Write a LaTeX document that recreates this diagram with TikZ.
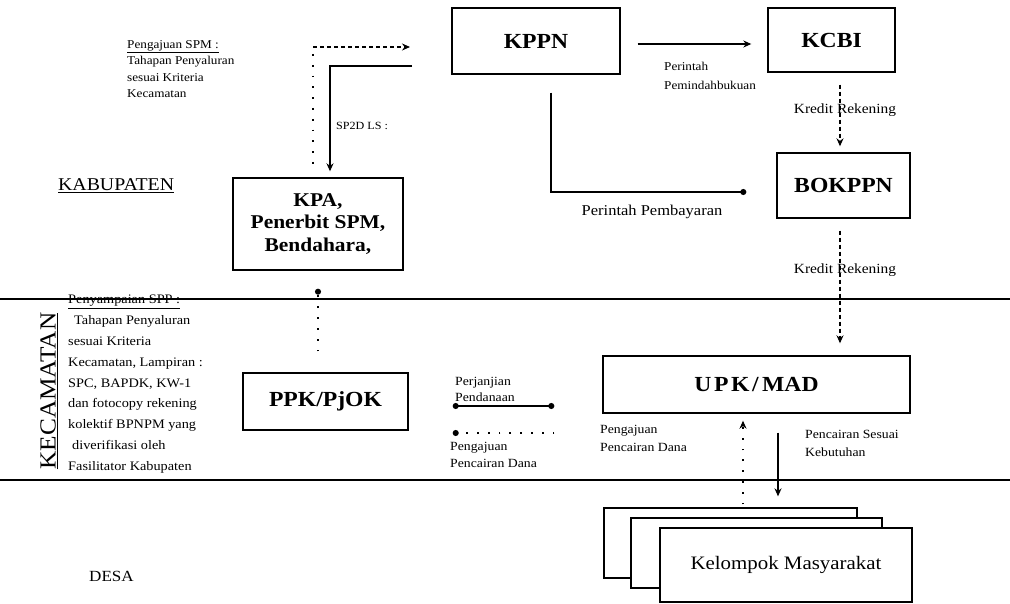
\documentclass[tikz,border=0pt]{standalone}
\usepackage{fontspec}
\setmainfont{Liberation Serif}[FakeStretch=1.1]
\usetikzlibrary{arrows.meta}
\begin{document}
\begin{tikzpicture}[x=1pt,y=-1pt,
  box/.style={draw,line width=1.4pt,inner sep=0pt,align=center,fill=white,
    font=\bfseries\fontsize{21.5}{23}\selectfont},
  kbox/.style={draw,line width=1.3pt,inner sep=0pt,fill=white,
    minimum width=252pt,minimum height=72pt,font=\fontsize{19}{21}\selectfont},
  lbl/.style={inner sep=0pt,align=left,font=\fontsize{13}{17}\selectfont},
  ln/.style={line width=1.2pt},
  tri/.style={-{Stealth[length=8pt,width=7pt]}},
  ball/.style={-{Circle[length=6pt]}},
  dotl/.style={dash pattern=on 1.8pt off 9pt},
  dsh/.style={dash pattern=on 4pt off 3pt}
]
\useasboundingbox (0,0) rectangle (1010,604);

% level lines
\draw[ln] (0,299) -- (1010,299);
\draw[ln] (0,480) -- (1010,480);

% boxes
\node[box,minimum width=168pt,minimum height=66pt] (kppn) at (536,41) {KPPN};
\node[box,minimum width=127pt,minimum height=64pt] (kcbi) at (831.5,40) {KCBI};
\node[box,minimum width=133pt,minimum height=65pt] (bokppn) at (843.5,185.5) {BOKPPN};
\node[box,minimum width=170pt,minimum height=92pt,font=\bfseries\fontsize{19.5}{22.5}\selectfont] (kpa) at (318,224) {KPA,\\Penerbit SPM,\\Bendahara,};
\node[box,minimum width=165pt,minimum height=57pt] (ppk) at (325.5,401.5) {PPK/PjOK};
\node[box,minimum width=307pt,minimum height=57pt] (upk) at (756.5,384.5) {{\addfontfeature{LetterSpace=12}UPK/}\,MAD};
\node[kbox,minimum width=253pt,minimum height=70pt] (km3) at (730.5,543) {};
\node[kbox,minimum width=251pt,minimum height=70pt] (km2) at (756.5,553) {};
\node[kbox,minimum width=252pt,minimum height=74pt] (km1) at (786,565) {Kelompok Masyarakat};

% level labels
\node[inner sep=0pt,anchor=west,font=\fontsize{18}{20}\selectfont] (kab) at (58,186) {\underline{KABUPATEN}};
\node[inner sep=0pt,rotate=90,font=\fontsize{23}{25}\selectfont] (kec) at (49,391) {\underline{KECAMATAN}};
\node[inner sep=0pt,anchor=west,font=\fontsize{15.5}{17}\selectfont] (desa) at (89,576) {DESA};

% text blocks
\node[lbl,anchor=north west,font=\fontsize{12}{16.5}\selectfont] (t1) at (127,40)
  {\underline{Pengajuan SPM :}\\Tahapan Penyaluran\\sesuai Kriteria\\Kecamatan};
\node[lbl,anchor=north west,font=\fontsize{13}{20.8}\selectfont] (t2) at (68,295)
  {\underline{Penyampaian SPP :}\\\hspace*{6pt}Tahapan Penyaluran\\sesuai Kriteria\\Kecamatan, Lampiran :\\SPC, BAPDK, KW-1\\dan fotocopy rekening\\kolektif BPNPM yang\\\hspace*{4pt}diverifikasi oleh\\Fasilitator Kabupaten};

% connectors top left
\coordinate (a1) at (313,47);
\coordinate (a2) at (410,47);
\draw[ln,dsh,tri] (a1) -- (a2);
\coordinate (d1) at (313,54);
\coordinate (d2) at (313,170);
\draw[ln,dotl] (d1) -- (d2);
\coordinate (s1) at (412,66);
\coordinate (s2) at (330,66);
\draw[ln,tri,shorten >=6pt] (s1) -- (s2) -- (s2 |- kpa.north);
\node[lbl,anchor=west,font=\fontsize{11}{13}\selectfont] (sp2d) at (336,126) {SP2D LS :};

% KPPN -> KCBI
\draw[ln,tri,shorten <=17pt,shorten >=16pt] ([yshift=-3pt]kppn.east) -- ([yshift=-3pt]kppn.east -| kcbi.west);
\node[lbl,anchor=north west,font=\fontsize{12}{19}\selectfont] (pp) at (664,62) {Perintah\\Pemindahbukuan};

% KPPN -> BOKPPN
\coordinate (kc) at (551,192);
\draw[ln,ball,shorten <=18pt,shorten >=30pt] ([xshift=15pt]kppn.south) -- (kc) -- (kc -| bokppn.west);
\node[lbl,font=\fontsize{15}{17}\selectfont] (pb) at (652,212) {Perintah Pembayaran};

% KCBI -> BOKPPN -> UPK
\coordinate (kx) at (840,0);
\draw[ln,dsh,tri,shorten <=12pt,shorten >=6pt] (kx |- kcbi.south) -- (kx |- bokppn.north);
\node[lbl,font=\fontsize{14}{16}\selectfont] (kr1) at (845,110) {Kredit Rekening};
\draw[ln,dsh,tri,shorten <=12pt,shorten >=12pt] (kx |- bokppn.south) -- (kx |- upk.north);
\node[lbl,font=\fontsize{14}{16}\selectfont] (kr2) at (845,270) {Kredit Rekening};

% PPK -> KPA
\coordinate (px) at (318,0);
\draw[ln,dotl,ball,shorten <=21pt,shorten >=18pt] (px |- ppk.north) -- (px |- kpa.south);

% PPK <-> UPK
\draw[ln,{Circle[length=6pt]}-{Circle[length=6pt]},shorten <=44pt,shorten >=48pt]
  ([yshift=-4.5pt]ppk.east) -- ([yshift=-4.5pt]ppk.east -| upk.west);
\node[lbl,anchor=north west,font=\fontsize{12.5}{16}\selectfont] (pj) at (455,377) {Perjanjian\\Pendanaan};
\draw[ln,dotl,ball,shorten <=48pt,shorten >=44pt]
  ([yshift=-31.5pt]ppk.east -| upk.west) -- ([yshift=-31.5pt]ppk.east);
\node[lbl,anchor=north west,font=\fontsize{12.5}{17}\selectfont] (pc1) at (450,442) {Pengajuan\\Pencairan Dana};

% UPK <-> Kelompok
\coordinate (ux) at (743,0);
\draw[ln,dotl,tri,shorten <=3pt,shorten >=7pt] (ux |- km3.north) -- (ux |- upk.south);
\coordinate (vx) at (778,0);
\draw[ln,tri,shorten <=19pt,shorten >=11pt] (vx |- upk.south) -- (vx |- km3.north);
\node[lbl,anchor=north west,font=\fontsize{12.5}{18}\selectfont] (pc2) at (600,425) {Pengajuan\\Pencairan Dana};
\node[lbl,anchor=north west,font=\fontsize{12.5}{18}\selectfont] (ps) at (805,430) {Pencairan Sesuai\\Kebutuhan};
\end{tikzpicture}
\end{document}
